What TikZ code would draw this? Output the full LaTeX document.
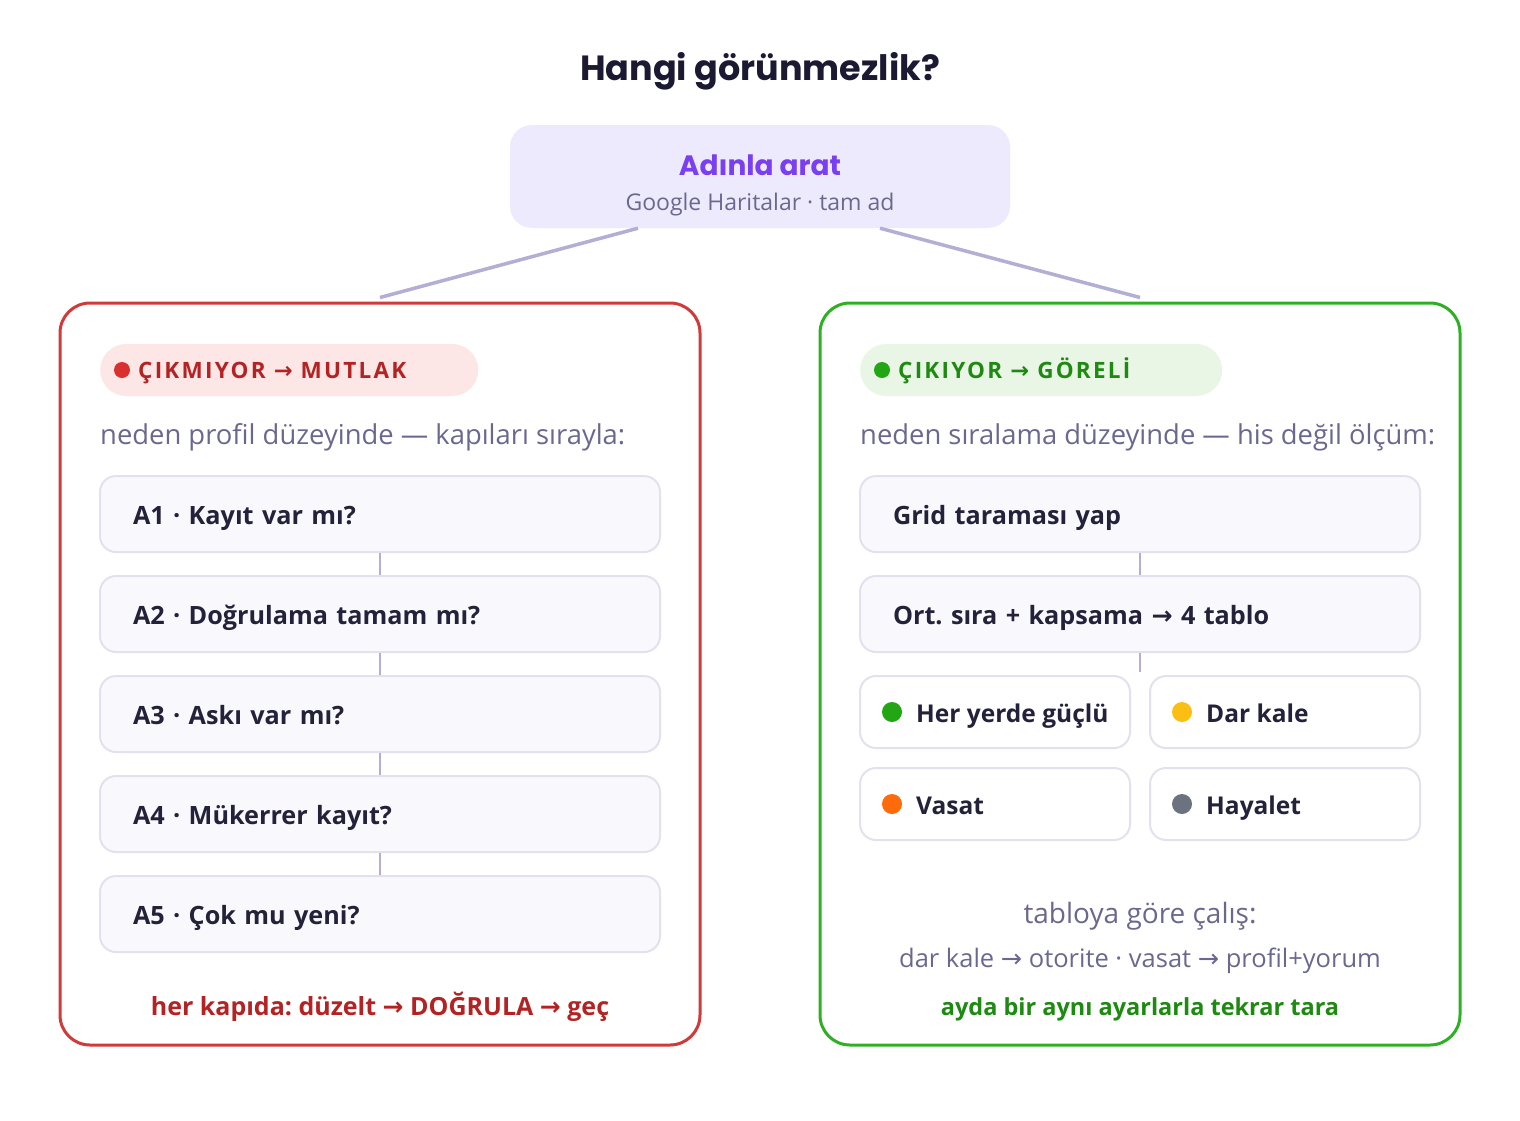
\documentclass[tikz,border=0pt]{standalone}
\usepackage{fontspec}
\setmainfont{Open Sans}
\newfontfamily\titlefont{Poppins}
\newfontfamily\arrowfont{DejaVu Sans}
\usetikzlibrary{calc}
\newcommand{\arr}{{\arrowfont\symbol{"2192}}}
\definecolor{titlec}{HTML}{1C1A33}
\definecolor{purp}{HTML}{7B3FF2}
\definecolor{topfill}{HTML}{EEEAFD}
\definecolor{subgray}{HTML}{6B6890}
\definecolor{connc}{HTML}{B3AED3}
\definecolor{redstroke}{HTML}{D03A3A}
\definecolor{redtext}{HTML}{B42323}
\definecolor{redbg}{HTML}{FCE6E6}
\definecolor{reddot}{HTML}{D93030}
\definecolor{grstroke}{HTML}{2FB024}
\definecolor{grtext}{HTML}{1E8A12}
\definecolor{grbg}{HTML}{E9F6E5}
\definecolor{grdot}{HTML}{22A614}
\definecolor{boxfill}{HTML}{F9F9FD}
\definecolor{boxstroke}{HTML}{E3E1EE}
\definecolor{steptext}{HTML}{24223A}
\definecolor{ydot}{HTML}{FBBF14}
\definecolor{odot}{HTML}{FF6B0A}
\definecolor{gdot}{HTML}{6B7280}
\tikzset{
  panel/.style={draw, line width=3pt, rounded corners=30pt, fill=white, minimum width=640pt, minimum height=742pt, inner sep=0pt},
  pill/.style={rounded corners=26pt, minimum height=52pt, inner sep=0pt, anchor=west},
  pilltext/.style={anchor=base west, inner sep=0pt, font=\fontsize{22.5}{26}\selectfont\bfseries\addfontfeatures{LetterSpace=10}},
  subtxt/.style={anchor=base west, inner sep=0pt, text=subgray, font=\fontsize{27.4}{30}\selectfont},
  stepbox/.style={draw=boxstroke, line width=2pt, fill=boxfill, rounded corners=16pt, minimum width=560pt, minimum height=76pt, text width=494pt, align=left, inner xsep=33pt, text=steptext, font=\fontsize{25.2}{30}\selectfont\bfseries, text height=20pt, text depth=0pt},
  cellbox/.style={draw=boxstroke, line width=2pt, fill=white, rounded corners=16pt, minimum width=270pt, minimum height=72pt, inner sep=0pt},
  celltext/.style={anchor=base west, inner sep=0pt, text=steptext, font=\fontsize{24.5}{30}\selectfont\bfseries},
  conn/.style={draw=connc, line width=2.5pt},
  topconn/.style={draw=connc, line width=3.5pt},
}
\begin{document}
\frenchspacing
\begin{tikzpicture}[x=1pt,y=-1pt]
\useasboundingbox[fill=white] (0,0) rectangle (1520,1120);
% title
\node[inner sep=0pt, anchor=base, text=titlec, font=\titlefont\fontsize{35}{40}\selectfont\bfseries] (title) at (760,80) {Hangi görünmezlik?};
% top box
\node[fill=topfill, rounded corners=22pt, minimum width=500pt, minimum height=103pt, inner sep=0pt] (top) at (760,176.5) {};
\node[inner sep=0pt, anchor=base, text=purp, font=\titlefont\fontsize{28}{34}\selectfont\bfseries] (toptitle) at (760,175) {Adınla arat};
\node[inner sep=0pt, anchor=base, text=subgray, font=\fontsize{23}{26}\selectfont] (topsub) at (760,210) {Google Haritalar · tam ad};
% panels
\node[panel, draw=redstroke] (lp) at (380,674) {};
\node[panel, draw=grstroke] (rp) at (1140,674) {};
\draw[topconn] ($(top.south)+(-122,0)$) -- ($(lp.north)+(0,-4)$);
\draw[topconn] ($(top.south)+(120,0)$) -- ($(rp.north)+(0,-4)$);
% pills
\node[pill, fill=redbg, minimum width=378pt] (pl) at (100,370) {};
\fill[reddot] (122,370) circle (8pt);
\node[pilltext, text=redtext] (plt) at (138,378) {ÇIKMIYOR \arr{} MUTLAK};
\node[pill, fill=grbg, minimum width=362pt] (pr) at (860,370) {};
\fill[grdot] (882,370) circle (8pt);
\node[pilltext, text=grtext] (prt) at (898,378) {ÇIKIYOR \arr{} GÖRELİ};
% subtitles
\node[subtxt] (ls) at (100,444) {neden profil düzeyinde — kapıları sırayla:};
\node[subtxt] (rs) at (860,444) {neden sıralama düzeyinde — his değil ölçüm:};
% left steps
\node[stepbox] (a1) at (380,514) {A1 · Kayıt var mı?};
\node[stepbox] (a2) at (380,614) {A2 · Doğrulama tamam mı?};
\node[stepbox] (a3) at (380,714) {A3 · Askı var mı?};
\node[stepbox] (a4) at (380,814) {A4 · Mükerrer kayıt?};
\node[stepbox] (a5) at (380,914) {A5 · Çok mu yeni?};
\draw[conn] (a1.south) -- (a2.north);
\draw[conn] (a2.south) -- (a3.north);
\draw[conn] (a3.south) -- (a4.north);
\draw[conn] (a4.south) -- (a5.north);
\node[inner sep=0pt, anchor=base, text=redtext, font=\fontsize{25}{28}\selectfont\bfseries] (lfoot) at (380,1015) {her kapıda: düzelt \arr{} DOĞRULA \arr{} geç};
% right steps
\node[stepbox] (b1) at (1140,514) {Grid taraması yap};
\node[stepbox] (b2) at (1140,614) {Ort. sıra + kapsama \arr{} 4 tablo};
\draw[conn] (b1.south) -- (b2.north);
\coordinate (gridtop) at (1140,672);
\draw[conn] (b2.south) -- (gridtop);
\node[cellbox] (c1) at (995,712) {};
\node[cellbox] (c2) at (1285,712) {};
\node[cellbox] (c3) at (995,804) {};
\node[cellbox] (c4) at (1285,804) {};
\fill[grdot] (892,712) circle (10pt);
\fill[ydot] (1182,712) circle (10pt);
\fill[odot] (892,804) circle (10pt);
\fill[gdot] (1182,804) circle (10pt);
\node[celltext] (t1) at (916,722) {Her yerde güçlü};
\node[celltext] (t2) at (1206,722) {Dar kale};
\node[celltext] (t3) at (916,814) {Vasat};
\node[celltext] (t4) at (1206,814) {Hayalet};
\node[inner sep=0pt, anchor=base, text=subgray, font=\fontsize{28}{30}\selectfont] (rf1) at (1140,923) {tabloya göre çalış:};
\node[inner sep=0pt, anchor=base, text=subgray, font=\fontsize{25.5}{28}\selectfont] (rf2) at (1140,967) {dar kale \arr{} otorite · vasat \arr{} profil+yorum};
\node[inner sep=0pt, anchor=base, text=grtext, font=\fontsize{23.5}{28}\selectfont\bfseries] (rf3) at (1140,1015) {ayda bir aynı ayarlarla tekrar tara};
\end{tikzpicture}
\end{document}
